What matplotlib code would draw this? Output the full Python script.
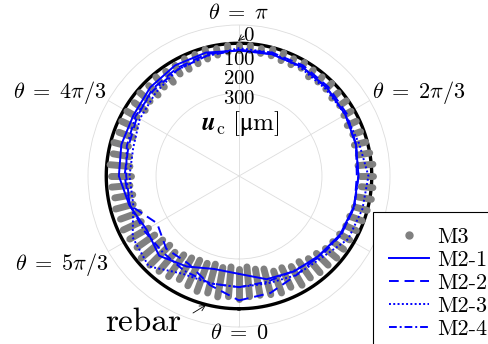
"""Polar plot of crack-opening displacement u_c around the rebar.

M3 measurements as grey radial streaks, the four M2 variants as
blue lines, the rebar surface as the thick black circle (u_c = 0).
"""

import numpy as np
import matplotlib
matplotlib.use("Agg")
import matplotlib.pyplot as plt
from matplotlib.lines import Line2D

plt.rcParams["mathtext.fontset"] = "cm"

W, H = 489, 344

# ---- data (theta in degrees, u_c in micrometres) --------------------
m3_theta = np.arange(0, 360, 5)
m3_lo = [30, 35, 35, 30, 25, 30, 20, 25, 20, 20, 15, 15,
         15, 10, 5, 0, -5, -5, -5, -5, 0, 5, 10, 10,
         10, 5, 10, 5, 10, 10, 5, 10, 5, 5, 10, 5,
         5, 5, 10, 5, 10, 10, 15, 15, 10, 15, 10, 15,
         10, 10, 15, 10, 15, 10, 15, 15, 20, 15, 20, 15,
         20, 25, 15, 20, 25, 30, 40, 35, 30, 35, 30, 35]
m3_hi = [120, 125, 115, 110, 95, 95, 85, 85, 75, 70, 60, 55,
         50, 45, 45, 40, 35, 30, 35, 40, 35, 40, 35, 40,
         35, 30, 35, 30, 30, 35, 25, 30, 30, 25, 25, 20,
         20, 25, 30, 35, 40, 45, 45, 55, 50, 55, 50, 55,
         45, 55, 60, 55, 65, 70, 75, 70, 75, 70, 80, 75,
         85, 90, 100, 105, 100, 110, 115, 120, 120, 125, 120, 125]

m2_theta = np.arange(0, 360, 15)
m2_1 = [105, 78, 68, 60, 48, 42, 40, 35, 30, 25, 20, 20,
        22, 15, 15, 22, 33, 33, 38, 58, 78, 60, 85, 110]
m2_2 = [25, 35, 55, 60, 45, 40, 45, 35, 25, 20, 15, 15,
        20, 20, 25, 30, 45, 55, 55, 60, 115, 90, 95, 60]
m2_3 = [65, 65, 55, 50, 20, 15, 10, 25, 30, 30, 25, 15,
        15, 25, 30, 45, 55, 70, 70, 70, 30, 15, 60, 65]
m2_4 = [65, 70, 70, 55, 45, 40, 40, 35, 30, 25, 20, 20,
        20, 25, 30, 35, 40, 50, 60, 60, 70, 75, 70, 65]

series = [("M2-1", m2_1, "-"), ("M2-2", m2_2, (0, (5, 3))),
          ("M2-3", m2_3, (0, (1, 1.2))), ("M2-4", m2_4, (0, (4, 1.5, 1, 1.5)))]

# ---- figure ------------------------------------------------------------
fig = plt.figure(figsize=(W / 100, H / 100), dpi=100)
ax = fig.add_axes([88 / W, 17 / H, 302 / W, 302 / H], projection="polar")
ax.set_theta_zero_location("S")
ax.set_theta_direction(1)
ax.set_ylim(400, -55)

ax.set_xticks(np.deg2rad(np.arange(0, 360, 60)))
ax.set_xticklabels([])
ax.set_yticks([150])
ax.set_yticklabels([])
ax.grid(color="#dddddd", lw=0.6)
ax.spines["polar"].set_color("#dddddd")
ax.spines["polar"].set_linewidth(0.6)

# rebar surface
full = np.linspace(0, 2 * np.pi, 361)
ax.plot(full, np.zeros_like(full), color="black", lw=2.4, zorder=2)

# M3 streaks
for t, lo, hi in zip(np.deg2rad(m3_theta), m3_lo, m3_hi):
    ax.plot([t, t], [lo, hi], color="#808080", lw=5,
            solid_capstyle="round", zorder=3)

t2 = np.deg2rad(np.append(m2_theta, 360))
for name, vals, ls in series:
    ax.plot(t2, np.append(vals, vals[0]), color="blue", lw=1.4, ls=ls,
            zorder=4)

# ---- labels --------------------------------------------------------------
def fx(x, y):
    return x / W, 1 - y / H

big = 16
fig.text(*fx(238, 13), r"$\theta\;=\;\pi$", ha="center", va="center", fontsize=big)
fig.text(*fx(239, 333), r"$\theta\;=\;0$", ha="center", va="center", fontsize=big)
fig.text(*fx(372, 92), r"$\theta\;=\;2\pi/3$", ha="left", va="center", fontsize=big)
fig.text(*fx(106, 92), r"$\theta\;=\;4\pi/3$", ha="right", va="center", fontsize=big)
fig.text(*fx(108, 265), r"$\theta\;=\;5\pi/3$", ha="right", va="center", fontsize=big)

tick = 15
fig.text(*fx(249, 35), r"$0$", ha="center", va="center", fontsize=tick)
fig.text(*fx(239, 59), r"$100$", ha="center", va="center", fontsize=tick)
fig.text(*fx(239, 78), r"$200$", ha="center", va="center", fontsize=tick)
fig.text(*fx(239, 98), r"$300$", ha="center", va="center", fontsize=tick)
fig.text(*fx(240, 123), r"$\boldsymbol{u}_\mathrm{c}\ [\mathrm{μm}]$",
         ha="center", va="center", fontsize=18)
fig.text(*fx(143, 322), "rebar", ha="center", va="center", fontsize=24,
         family="cmr10")

arrow = dict(arrowstyle="->", lw=0.6, color="black", shrinkA=0, shrinkB=0)
ax.annotate("", xy=fx(238, 41), xytext=fx(244, 36),
            xycoords="figure fraction", textcoords="figure fraction",
            arrowprops=arrow)
ax.annotate("", xy=fx(206, 305), xytext=fx(193, 313),
            xycoords="figure fraction", textcoords="figure fraction",
            arrowprops=arrow)

handles = [Line2D([], [], ls="none", marker="o", ms=5, color="#808080")]
handles += [Line2D([], [], color="blue", lw=1.4, ls=ls) for _, _, ls in series]
labels = ["M3"] + [name for name, _, _ in series]
leg = fig.legend(handles, labels, loc="upper left",
                 bbox_to_anchor=fx(373, 212), frameon=True, fancybox=False,
                 framealpha=1, edgecolor="black", borderaxespad=0,
                 prop={"family": "cmr10", "size": 16}, handlelength=1.8,
                 handletextpad=0.4, labelspacing=0.15, borderpad=0.7)
leg.get_frame().set_linewidth(0.8)

fig.savefig("out.png", dpi=100)
